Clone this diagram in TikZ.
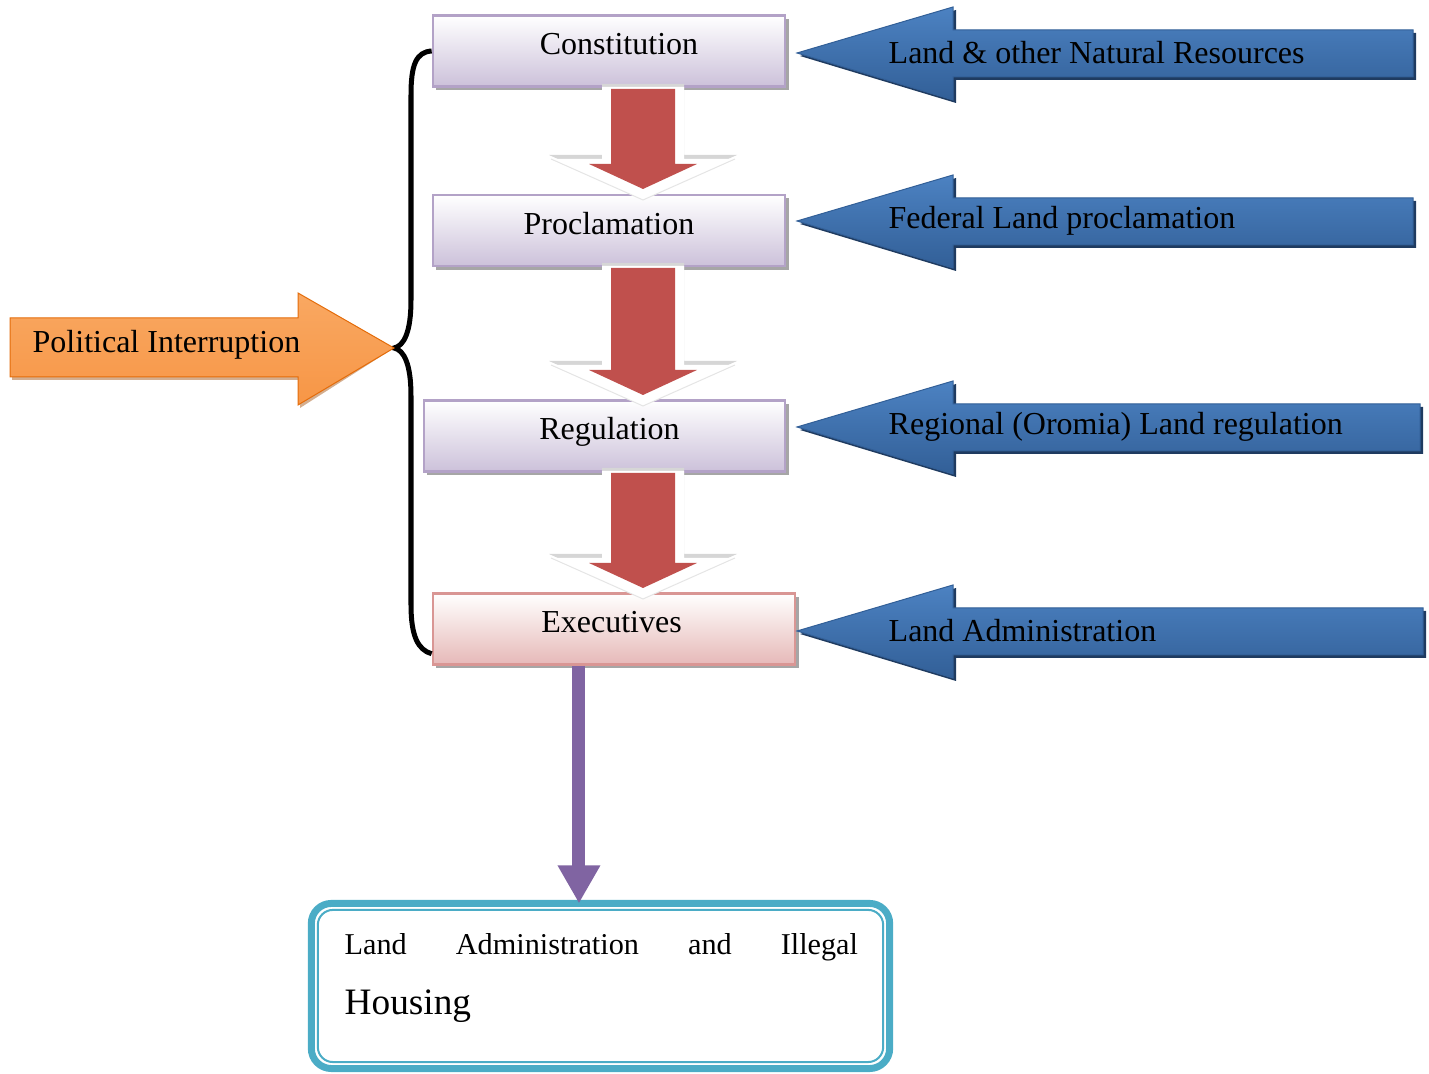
\documentclass[tikz,border=0pt]{standalone}
\usepackage{fontspec}
\setmainfont{Liberation Serif}
\usetikzlibrary{arrows.meta,positioning,calc,shadows}
\definecolor{clav}{HTML}{CCC1DA}
\definecolor{clavd}{HTML}{B3A2C7}
\definecolor{cpink}{HTML}{E6B9B8}
\definecolor{cpinkd}{HTML}{D99694}
\definecolor{cred}{HTML}{C0504D}
\definecolor{cbluel}{HTML}{4C82C2}
\definecolor{cblued}{HTML}{325F97}
\definecolor{cbshad}{HTML}{1F3B60}
\definecolor{corange}{HTML}{F79646}
\definecolor{corangel}{HTML}{F9A862}
\definecolor{coranged}{HTML}{E46C0A}
\definecolor{cpurp}{HTML}{8064A2}
\definecolor{cteal}{HTML}{4BACC6}
\tikzset{
  lvl/.style={rectangle, draw=clavd, line width=0.025cm, top color=white, bottom color=clav,
    minimum width=3.52cm, minimum height=0.71cm, inner sep=0pt,
    font=\fontsize{9.1}{11}\selectfont, text height=0.2cm, text depth=0.12cm,
    drop shadow={shadow xshift=0.035cm, shadow yshift=-0.035cm, fill=black!35, opacity=1}},
  exe/.style={lvl, draw=cpinkd, top color=white, bottom color=cpink},
  barrow/.style={top color=cbluel, bottom color=cblued, draw=cblued, line width=0.01cm},
  bshad/.style={fill=cbshad},
  btext/.style={anchor=west, inner sep=0pt, font=\fontsize{9.1}{11}\selectfont},
  oarr/.style={top color=corangel, bottom color=corange, draw=coranged, line width=0.01cm},
  oshad/.style={fill=coranged!70!black, opacity=0.45},
  brc/.style={line width=0.05cm, draw=black},
  parr/.style={-{Triangle[length=0.38cm, width=0.40cm]}, line width=0.13cm, draw=cpurp},
  hbox/.style={rectangle, draw=cteal, line width=0.07cm, rounded corners=0.2cm,
    minimum width=5.78cm, minimum height=1.65cm, inner sep=0pt, outer sep=0pt},
  htext/.style={inner sep=0pt, font=\fontsize{8.6}{10}\selectfont},
}

\begin{document}
\begin{tikzpicture}[x=0.01cm, y=-0.01cm]
  \useasboundingbox (0,0) rectangle (1429,1074);

  % the four levels
  \node[lvl] (cons) at (609,51) {\hspace*{0.2cm}Constitution};
  \node[lvl] (procl) at (609,230.5) {Proclamation};
  \node[lvl, minimum width=3.61cm] (regul) at (604.5,436) {\hspace*{0.1cm}Regulation};
  \node[exe, minimum width=3.62cm] (exec) at (614,629) {Executives\hspace*{0.05cm}};

  % red block arrows between the levels
  \foreach \b/\t in {87/195, 266/401, 471/594}{
    \fill[black!16] (602,\b-3) -- (602,\t-40) -- (549,\t-40) -- (643,\t+2) -- (737,\t-40) -- (684,\t-40) -- (684,\b-3) -- cycle;
    \fill[white] (602,\b) -- (602,\t-36) -- (551,\t-36) -- (643,\t+5) -- (735,\t-36) -- (684,\t-36) -- (684,\b) -- cycle;
    \draw[black!10, line width=0.01cm] (551,\t-36) -- (643,\t+5) -- (735,\t-36);
    \fill[cred] (611,\b+2) -- (611,\t-31) -- (589,\t-31) -- (643,\t-6) -- (697,\t-31) -- (675,\t-31) -- (675,\b+2) -- cycle;
  }

  % blue arrows with their sources
  \foreach \ty/\rx/\nm/\txt in {53/1413/lnr/Land \& other Natural Resources,
      221/1413/fed/Federal Land proclamation,
      427/1420/reg/Regional (Oromia) Land regulation,
      631/1423/adm/Land Administration}{
    \fill[bshad, shift={(3,3)}] (797,\ty) -- (953,\ty-46) -- (953,\ty-23) -- (\rx,\ty-23) -- (\rx,\ty+24) -- (953,\ty+24) -- (953,\ty+47) -- cycle;
    \draw[barrow] (797,\ty) -- (953,\ty-46) -- (953,\ty-23) -- (\rx,\ty-23) -- (\rx,\ty+24) -- (953,\ty+24) -- (953,\ty+47) -- cycle;
    \node[btext] (\nm) at (888,\ty) {\txt};
  }

  % brace and political interruption
  \coordinate (btip) at (394,348);
  \draw[brc] (cons.west) .. controls (416,52) and (411,65) .. (411,95) -- (411,300)
    .. controls (411,332) and (404,346) .. (btip)
    .. controls (404,350) and (411,364) .. (411,396) -- (411,605)
    .. controls (411,636) and (418,650) .. ($(exec.south west)+(0,-12)$);
  \fill[oshad, shift={(2,3)}] (10,318) -- (298,318) -- (298,293) -- (btip) -- (298,405) -- (298,377) -- (10,377) -- cycle;
  \draw[oarr] (10,318) -- (298,318) -- (298,293) -- (btip) -- (298,405) -- (298,377) -- (10,377) -- cycle;
  \node[btext] (polit) at (32,345) {Political Interruption};

  % outcome
  \node[hbox] (hous) at (600.5,986) {};
  \draw[cteal, line width=0.02cm, rounded corners=0.15cm] ([shift={(6.5,-6.5)}]hous.south west) rectangle ([shift={(-6.5,6.5)}]hous.north east);
  \node[htext, anchor=base west] (housA) at (344,955) {\makebox[5.13cm][s]{Land Administration and Illegal}};
  \node[htext, anchor=base west, font=\fontsize{10.6}{13}\selectfont] (housB) at (344,1015) {Housing};
  \draw[parr] ([xshift=-0.35cm]exec.south) -- ([xshift=-0.35cm]exec.south |- hous.north);
\end{tikzpicture}
\end{document}
